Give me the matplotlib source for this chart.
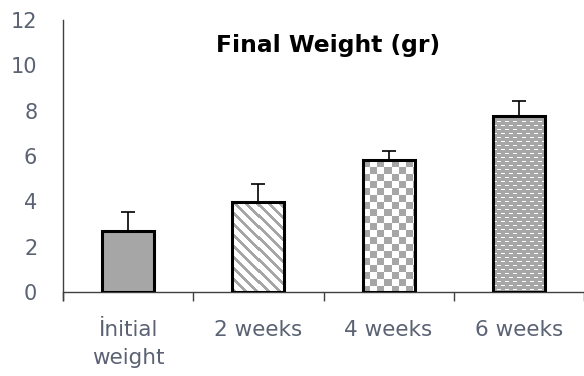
import matplotlib
matplotlib.use("Agg")
import matplotlib.pyplot as plt
import numpy as np

# Data
categories = ["İnitial\nweight", "2 weeks", "4 weeks", "6 weeks"]
means = [2.69, 3.95, 5.82, 7.75]
errors = [0.84, 0.82, 0.41, 0.66]
patterns = ["solid", "stripes", "checker", "dashes"]
yticks = [0, 2, 4, 6, 8, 10, 12]

plt.rcParams['font.family'] = ['DejaVu Sans']

GRAY = np.array([166, 166, 166]) / 255.0
WHITE = np.array([1.0, 1.0, 1.0])
LABEL = '#5a6273'


def make_texture(kind, h, w):
    r, c = np.mgrid[0:h, 0:w]
    img = np.ones((h, w, 3))
    if kind == "solid":
        mask = np.ones((h, w), bool)
    elif kind == "stripes":
        mask = ((c - r) % 11) < 4
    elif kind == "checker":
        mask = ((r // 7 + c // 7) % 2) == 0
    else:  # gray with white dashes
        white = (r % 4 == 1) & (((c + 4 * ((r // 4) % 2)) % 8) < 4)
        mask = ~white
    img[mask] = GRAY
    img[~mask] = WHITE
    return img


fig = plt.figure(figsize=(5.84, 3.76), dpi=100)
ax = fig.add_axes([63 / 584, 84 / 376, 521 / 584, 272 / 376])

x = np.arange(len(categories))
ax.set_xlim(-0.5, len(categories) - 0.5)
ax.set_ylim(0, 12)

# base bars (white) used as clip shapes for textures
base = ax.bar(x, means, width=0.4, color='white', linewidth=0, zorder=2)
for patch, kind in zip(base, patterns):
    bb = patch.get_window_extent()
    w = max(int(round(bb.width)), 1)
    h = max(int(round(bb.height)), 1)
    x0 = patch.get_x()
    im = ax.imshow(make_texture(kind, h, w), extent=(x0, x0 + patch.get_width(), 0, patch.get_height()),
                   origin='upper', aspect='auto', interpolation='nearest', zorder=2.5)
    im.set_clip_path(patch)

# outlines
ax.bar(x, means, width=0.4, fill=False, edgecolor='black', linewidth=2.2, zorder=3)

# error bars (upper only)
ax.errorbar(x, means, yerr=[np.zeros(len(means)), errors], fmt='none', ecolor='black',
            elinewidth=1.2, capsize=5, capthick=1.2, zorder=1.5)

ax.set_xlim(-0.5, len(categories) - 0.5)
ax.set_ylim(0, 12)

# axes styling
for s in ['top', 'right']:
    ax.spines[s].set_visible(False)
for s in ['left', 'bottom']:
    ax.spines[s].set_color('#404040')
    ax.spines[s].set_linewidth(1.0)
ax.spines['left'].set_bounds(-0.35, 12)

ax.set_yticks(yticks)
ax.set_yticklabels([str(v) for v in yticks])
ax.tick_params(axis='y', length=0, pad=18.5, labelsize=15, labelcolor=LABEL)

ax.set_xticks(np.arange(len(categories) + 1) - 0.5)
ax.set_xticklabels([])
ax.tick_params(axis='x', which='major', length=6.5, color='#404040', width=1.0, direction='out')
ax.set_xticks(x, minor=True)
ax.set_xticklabels(categories, minor=True)
ax.tick_params(axis='x', which='minor', length=0, pad=20, labelsize=15.5, labelcolor=LABEL)
for lbl in ax.get_xticklabels(minor=True):
    lbl.set_linespacing(1.5)

fig.text(328.5 / 584, 324 / 376, "Final Weight (gr)", ha='center', va='baseline',
         fontsize=16.8, fontweight='bold', color='black')

fig.savefig("out.png", dpi=100)
